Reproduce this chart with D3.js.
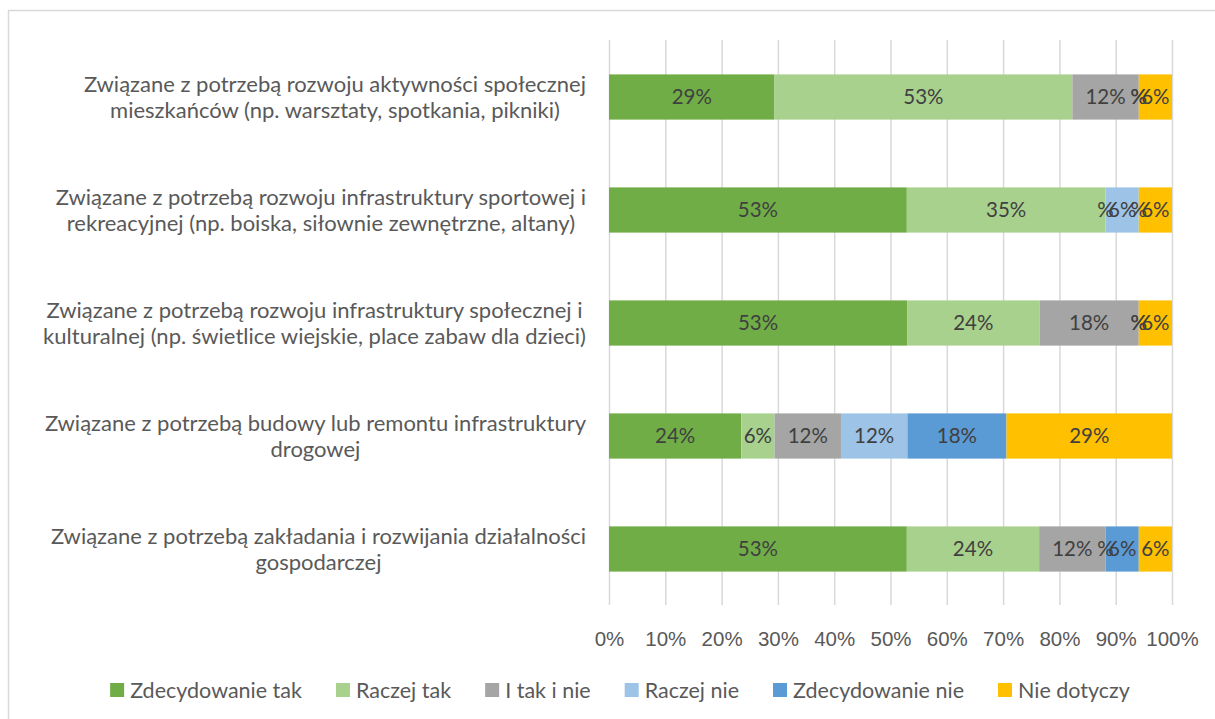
<!DOCTYPE html>
<html>
<head>
<meta charset="utf-8">
<script src="https://cdn.jsdelivr.net/npm/d3@7"></script>
<style>
  body { margin: 0; background: #fff; }
  svg { display: block; font-family: Lato, "Noto Sans", sans-serif; }
</style>
</head>
<body>
<div id="chart"></div>
<script>
// categories (each one is two lines of text)
const categories = [
  ["Związane z potrzebą rozwoju aktywności społecznej", "mieszkańców (np. warsztaty, spotkania, pikniki)"],
  ["Związane z potrzebą rozwoju infrastruktury sportowej i", "rekreacyjnej (np. boiska, siłownie zewnętrzne, altany)"],
  ["Związane z potrzebą rozwoju infrastruktury społecznej i", "kulturalnej (np. świetlice wiejskie, place zabaw dla dzieci)"],
  ["Związane z potrzebą budowy lub remontu infrastruktury", "drogowej"],
  ["Związane z potrzebą zakładania i rozwijania działalności", "gospodarczej"]
];

// series values, percent
const zdecydowanieTak = [29.4, 52.9, 52.9, 23.5, 52.9];
const raczejTak = [52.9, 35.3, 23.5, 5.9, 23.5];
const iTakINie = [11.8, 0, 17.6, 11.8, 11.8];
const raczejNie = [0, 5.9, 0, 11.8, 0];
const zdecydowanieNie = [0, 0, 0, 17.6, 5.9];
const nieDotyczy = [5.9, 5.9, 5.9, 29.4, 5.9];

const seriesNames = ["Zdecydowanie tak", "Raczej tak", "I tak i nie", "Raczej nie", "Zdecydowanie nie", "Nie dotyczy"];
const seriesValues = [zdecydowanieTak, raczejTak, iTakINie, raczejNie, zdecydowanieNie, nieDotyczy];
const seriesColors = ["#70AD47", "#A9D18E", "#A5A5A5", "#9DC3E6", "#5B9BD5", "#FFC000"];

const xTicks = [0, 0.1, 0.2, 0.3, 0.4, 0.5, 0.6, 0.7, 0.8, 0.9, 1];

const width = 1215, height = 719;

const svg = d3.select("#chart")
  .append("svg")
  .attr("width", width)
  .attr("height", height);

// outer frame
svg.append("rect")
  .attr("x", 8.5)
  .attr("y", 10.5)
  .attr("width", width)
  .attr("height", height)
  .attr("fill", "none")
  .attr("stroke", "#d9d9d9")
  .attr("stroke-width", 1.5);

const x = d3.scaleLinear().domain([0, 1]).range([609, 1172]);
const y = d3.scaleBand()
  .domain(d3.range(categories.length))
  .range([40.5, 605.5])
  .paddingInner(0.6)
  .paddingOuter(0.3);

// table for the stack
const rows = categories.map((c, i) => {
  const row = { idx: i };
  seriesNames.forEach((s, j) => (row[s] = seriesValues[j][i]));
  return row;
});
const stacked = d3.stack().keys(seriesNames).offset(d3.stackOffsetExpand)(rows);

// gridlines + axis labels
const xAxis = d3.axisBottom(x)
  .tickValues(xTicks)
  .tickSize(-(605 - 40))
  .tickFormat(d3.format(".0%"));
const axisG = svg.append("g")
  .attr("transform", "translate(0,605)")
  .call(xAxis);
axisG.select(".domain").remove();
axisG.selectAll(".tick line")
  .attr("stroke", "#d9d9d9")
  .attr("stroke-width", 1.5);
axisG.selectAll(".tick text")
  .attr("y", 34)
  .attr("dy", "0.35em")
  .attr("fill", "#595959")
  .attr("font-size", 20.5)
  .attr("font-family", null);

// bars
const layers = svg.append("g")
  .selectAll("g")
  .data(stacked)
  .enter()
  .append("g")
  .attr("fill", (d, i) => seriesColors[i]);

layers.selectAll("rect")
  .data(d => d)
  .enter()
  .append("rect")
  .attr("x", d => x(d[0]))
  .attr("y", d => y(d.data.idx))
  .attr("width", d => x(d[1]) - x(d[0]))
  .attr("height", y.bandwidth());

// data labels ("#%" format, so zero shows as "%")
const labelText = d => {
  const v = Math.round((d[1] - d[0]) * 100);
  return (v === 0 ? "" : v) + "%";
};
svg.append("g")
  .selectAll("g")
  .data(stacked)
  .enter()
  .append("g")
  .selectAll("text")
  .data(d => d)
  .enter()
  .append("text")
  .attr("x", d => x((d[0] + d[1]) / 2))
  .attr("y", d => y(d.data.idx) + y.bandwidth() / 2)
  .attr("dy", "0.35em")
  .attr("text-anchor", "middle")
  .attr("font-size", 20.5)
  .attr("fill", "#404040")
  .text(labelText);

// category labels, lines centered, block right aligned
const catG = svg.append("g")
  .selectAll("g")
  .data(categories)
  .enter()
  .append("g");
catG.each(function(lines, i) {
  const g = d3.select(this);
  const cy = y(i) + y.bandwidth() / 2;
  const texts = g.selectAll("text")
    .data(lines)
    .enter()
    .append("text")
    .attr("y", (d, k) => cy + (k - (lines.length - 1) / 2) * 26)
    .attr("dy", "0.35em")
    .attr("text-anchor", "middle")
    .attr("font-size", 22)
    .attr("fill", "#595959")
    .text(d => d);
  const w = d3.max(texts.nodes(), n => n.getComputedTextLength());
  texts.attr("x", 586 - w / 2);
});

// legend
const legend = svg.append("g");
const items = legend.selectAll("g")
  .data(seriesNames)
  .enter()
  .append("g");
items.append("rect")
  .attr("width", 14)
  .attr("height", 14)
  .attr("y", -7)
  .attr("fill", (d, i) => seriesColors[i]);
items.append("text")
  .attr("x", 20)
  .attr("dy", "0.35em")
  .attr("font-size", 21.5)
  .attr("fill", "#595959")
  .text(d => d);
let pos = 0;
items.each(function() {
  const w = this.getBBox().width;
  d3.select(this).attr("transform", `translate(${pos},690)`);
  pos += w + 34;
});
const total = pos - 34;
legend.attr("transform", `translate(${620 - total / 2},0)`);
</script>
</body>
</html>
